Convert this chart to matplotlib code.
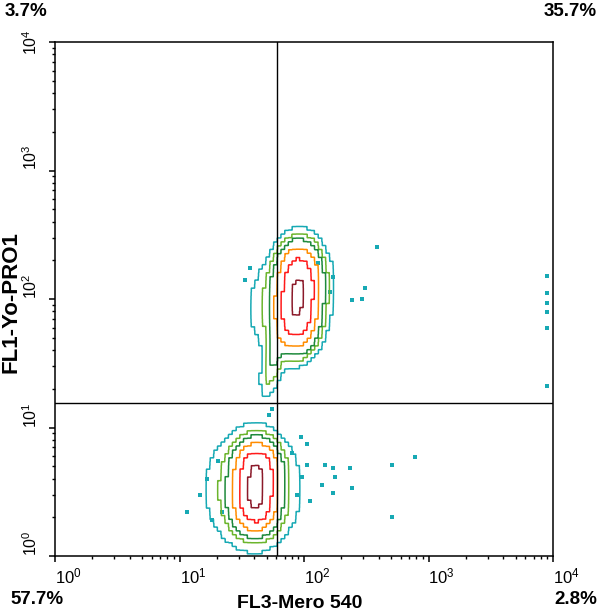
import numpy as np
import matplotlib
matplotlib.use("Agg")
import matplotlib.pyplot as plt

plt.rcParams['font.family'] = ['Liberation Sans', 'DejaVu Sans']
plt.rcParams['mathtext.fontset'] = 'custom'
plt.rcParams['mathtext.rm'] = 'Liberation Sans'
plt.rcParams['mathtext.it'] = 'Liberation Sans:italic'
plt.rcParams['mathtext.bf'] = 'Liberation Sans:bold'

# ---------------- data ----------------
x_label = "FL3-Mero 540"
y_label = "FL1-Yo-PRO1"
pct_ul, pct_ur, pct_ll, pct_lr = "3.7%", "35.7%", "57.7%", "2.8%"
gate_x = 61.0
gate_y = 15.5
tick_values = [1, 10, 100, 1000, 10000]

# population components (log10 centre, log10 spread, correlation, weight)
comp_xc = [1.61, 1.62, 1.59, 1.96, 1.94, 1.89, 1.76]
comp_yc = [0.42, 0.66, 0.52, 2.15, 1.88, 2.00, 1.54]
comp_sx = [0.09, 0.09, 0.22, 0.09, 0.09, 0.20, 0.065]
comp_sy = [0.12, 0.12, 0.27, 0.15, 0.15, 0.24, 0.18]
comp_rho = [0.0, 0.0, 0.0, 0.0, 0.0, 0.2, 0.6]
comp_w = [1.0, 1.0, 0.12, 0.85, 0.85, 0.10, 0.10]

# contour levels (fraction of peak density) and colours, outermost first
level_frac = [0.02, 0.045, 0.08, 0.18, 0.4, 0.82]
level_colors = ['#17a9b4', '#6cb52d', '#1e8a3c', '#ff8c00', '#ff1a1a', '#8b1a2a']

# sparse events outside the contours
out_x = [386, 171, 309, 243, 292, 162, 8950, 8950, 8950, 8950, 8950, 8950,
         106, 80, 106, 147, 171, 177, 234, 243, 171, 140, 112, 509, 779, 509, 96,
         11.5, 16.6, 18.2, 21.9, 36.8, 33.6, 14.5, 20.5, 88, 95, 130, 52, 55]
out_y = [254, 148, 122, 98, 100, 113, 151, 111, 93, 79, 59, 21,
         7.4, 6.3, 5.1, 5.1, 4.8, 4.1, 4.8, 3.4, 3.1, 3.6, 2.7, 5.1, 5.9, 2.0, 4.1,
         2.2, 4.0, 1.9, 2.2, 174, 141, 3.0, 5.5, 3.0, 8.5, 190, 12.5, 14]

# ---------------- figure ----------------
fig = plt.figure(figsize=(6.0, 6.15), dpi=100)
ax = fig.add_axes([55/600, 59/615, 498/600, 514/615])

step = 0.03
g = np.arange(-0.3, 4.3, step)
GX, GY = np.meshgrid(g, g)
dens = np.zeros_like(GX)
for xc, yc, sx, sy, r, w in zip(comp_xc, comp_yc, comp_sx, comp_sy, comp_rho, comp_w):
    dx = (GX - xc) / sx
    dy = (GY - yc) / sy
    q = (dx**2 - 2*r*dx*dy + dy**2) / (1 - r**2)
    dens += w * np.exp(-0.5 * q)
dens /= dens.max()

# pixelated look: nearest-neighbour upsampling
up = 6
dens_up = np.kron(dens, np.ones((up, up)))
fine = (np.arange(len(g) * up) + 0.5) * step / up + g[0] - step / 2
FX, FY = np.meshgrid(10**fine, 10**fine)
ax.contour(FX, FY, dens_up, levels=level_frac, colors=level_colors, linewidths=1.1)

ax.scatter(out_x, out_y, marker='s', s=6, color=level_colors[0], linewidths=0)

ax.axvline(gate_x, color='black', lw=1.0)
ax.axhline(gate_y, color='black', lw=1.0)

ax.set_xscale('log')
ax.set_yscale('log')
ax.set_xlim(1, 10000)
ax.set_ylim(1, 10000)
ax.set_xticks(tick_values)
ax.set_yticks(tick_values)
for s in ax.spines.values():
    s.set_linewidth(1.1)
ax.tick_params(which='major', direction='out', length=4.5, width=1.1)
ax.tick_params(which='minor', direction='out', length=2.3, width=1.0)
ax.tick_params(axis='x', labelsize=12, pad=3)
ax.tick_params(axis='y', labelsize=11.5, pad=6)
for lbl in ax.get_xticklabels():
    lbl.set_horizontalalignment('left')
ylbls = ax.get_yticklabels()
for lbl in ylbls:
    lbl.set_rotation(90)
    lbl.set_verticalalignment('bottom')
ylbls[-1].set_verticalalignment('center')

fig.text(300/600, 1 - 603/615, x_label, ha='center', va='center', fontsize=14, fontweight='bold')
fig.text(11/600, 1 - 302/615, y_label, ha='center', va='center', fontsize=16,
         fontweight='bold', rotation=90)
fig.text(5/600, 1 - 12/615, pct_ul, ha='left', va='center', fontsize=13.5, fontweight='bold')
fig.text(597/600, 1 - 12/615, pct_ur, ha='right', va='center', fontsize=13.5, fontweight='bold')
fig.text(10/600, 1 - 600/615, pct_ll, ha='left', va='center', fontsize=13.5, fontweight='bold')
fig.text(597/600, 1 - 600/615, pct_lr, ha='right', va='center', fontsize=13.5, fontweight='bold')

fig.savefig("out.png", dpi=100)
